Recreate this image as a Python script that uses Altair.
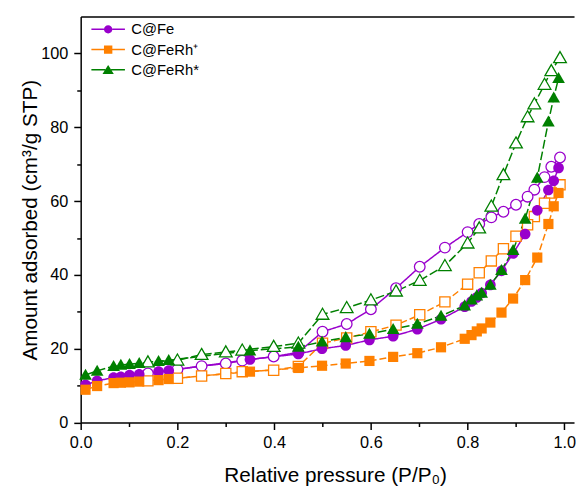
import altair as alt
import pandas as pd

SERIES = ["C@Fe", "C@FeRh⁺", "C@FeRh*"]
COLORS = ["#9900CC", "#FF8000", "#008000"]
DASHES = [[1, 0], [7, 3], [9, 3]]

# adsorption branch (filled markers)
ADS_X = [0.010, 0.034, 0.068, 0.083, 0.101, 0.121, 0.161, 0.182, 0.350, 0.450,
         0.499, 0.548, 0.597, 0.646, 0.696, 0.745, 0.794, 0.808, 0.819, 0.829,
         0.847, 0.870, 0.894, 0.919, 0.944, 0.967, 0.978, 0.988]
FE_ADS = [10.2, 11.3, 12.2, 12.4, 12.9, 13.1, 13.8, 14.1, 17.1, 18.6,
          20.0, 20.9, 22.4, 23.4, 25.3, 28.0, 31.4, 32.8, 33.9, 35.1,
          37.3, 41.1, 45.8, 51.1, 57.5, 63.0, 65.5, 69.0]
RHP_ADS = [8.9, 9.9, 10.7, 10.8, 10.9, 11.1, 11.5, 11.8, 13.8, 14.8,
           15.4, 16.0, 16.7, 17.8, 18.8, 20.4, 22.7, 23.7, 24.7, 25.5,
           27.1, 29.8, 33.6, 38.6, 44.7, 53.8, 58.6, 62.2]
RHS_ADS = [12.9, 14.0, 15.3, 15.6, 15.8, 16.1, 16.6, 16.9, 19.5, 20.5,
           21.9, 23.1, 24.0, 25.3, 26.7, 28.9, 31.7, 33.3, 34.4, 35.1,
           37.3, 41.3, 46.7, 55.2, 66.3, 81.5, 88.0, 93.3]

# desorption branch (open markers)
DES_X = [0.991, 0.973, 0.959, 0.938, 0.924, 0.900, 0.874, 0.849, 0.824, 0.800,
         0.753, 0.701, 0.652, 0.600, 0.550, 0.500, 0.450, 0.399, 0.334, 0.300,
         0.250, 0.200, 0.139]
FE_DES = [71.8, 69.3, 66.5, 63.1, 61.2, 59.0, 57.1, 55.6, 53.8, 51.6,
          47.4, 42.2, 36.4, 30.7, 26.7, 24.6, 19.0, 17.9, 16.8, 16.0,
          15.3, 14.4, 13.3]
RHP_DES = [64.4, 62.2, 59.4, 55.8, 53.6, 50.5, 47.1, 43.8, 40.6, 37.5,
           32.7, 29.2, 26.4, 24.6, 22.9, 21.5, 15.2, 14.2, 13.8, 13.3,
           12.6, 12.0, 11.3]
RHS_DES = [98.8, 95.3, 91.6, 86.3, 82.8, 75.7, 67.1, 58.6, 52.7, 48.6,
           42.5, 38.5, 35.6, 33.2, 31.1, 29.3, 21.5, 20.6, 19.6, 19.1,
           18.4, 16.9, 16.4]

X_MAJOR = [0.0, 0.2, 0.4, 0.6, 0.8, 1.0]
X_MINOR = [0.1, 0.3, 0.5, 0.7, 0.9]
Y_MAJOR = [0, 20, 40, 60, 80, 100]
Y_MINOR = [10, 30, 50, 70, 90]

rows = []
for name, ads, des in zip(SERIES, [FE_ADS, RHP_ADS, RHS_ADS], [FE_DES, RHP_DES, RHS_DES]):
    for i, (x, y) in enumerate(zip(ADS_X, ads)):
        rows.append({"series": name, "branch": "ads", "x": x, "y": y, "order": i})
    for i, (x, y) in enumerate(zip(DES_X, des)):
        rows.append({"series": name, "branch": "des", "x": x, "y": y, "order": i})
df = pd.DataFrame(rows)
ads_df = df[df.branch == "ads"]
des_df = df[df.branch == "des"]

FONT = "Liberation Sans"
xscale = alt.Scale(domain=[0, 1.02], nice=False, zero=False)
yscale = alt.Scale(domain=[0, 110], nice=False)
cscale = alt.Scale(domain=SERIES, range=COLORS)

# marker outlines (unit = sqrt(size)/2 px)
MARKER_PATHS = [
    "M-0.94,0A0.94,0.94,0,1,1,0.94,0A0.94,0.94,0,1,1,-0.94,0Z",
    "M-0.9,-0.9H0.9V0.9H-0.9Z",
    "M0,-1.1L1.12,0.85L-1.12,0.85Z",
]
shape_scale = alt.Scale(domain=SERIES, range=MARKER_PATHS)

LINE_L = "M-4,-0.18H-1V0.18H-4Z M1,-0.18H4V0.18H1Z "
LINE_T = "M-4,-0.18H-0.7V0.18H-4Z M0.7,-0.18H4V0.18H0.7Z "
LEG_PATHS = [
    LINE_L + "M-1,0A1,1,0,1,1,1,0A1,1,0,1,1,-1,0Z",
    LINE_L + "M-1,-1H1V1H-1Z",
    LINE_T + "M0,-1.15L1.35,1L-1.35,1Z",
]

common_axis = dict(domainColor="black", domainWidth=1.5, tickColor="black", tickWidth=1.5,
                   labelFont=FONT, labelFontSize=16.5, labelColor="black",
                   titleFont=FONT, titleFontSize=21, titleFontWeight="normal",
                   titleColor="black", labelFlush=False, labelOverlap=False)

x_major = alt.Axis(orient="bottom", values=X_MAJOR, format=".1f", tickSize=7, labelPadding=5,
                   title="Relative pressure (P/P₀)", titleX=258, titleY=60,
                   titleBaseline="alphabetic", **common_axis)
y_major = alt.Axis(orient="left", values=Y_MAJOR, format="d", tickSize=7, labelPadding=6,
                   title="Amount adsorbed (cm³/g STP)", titleX=-44.7, titleY=206,
                   titleBaseline="alphabetic", **common_axis)
x_minor = alt.Axis(orient="bottom", values=X_MINOR, tickSize=4, labels=False, domain=False,
                   title=None, tickColor="black", tickWidth=1.5)
y_minor = alt.Axis(orient="left", values=Y_MINOR, tickSize=4, labels=False, domain=False,
                   title=None, tickColor="black", tickWidth=1.5)
x_top = alt.Axis(orient="top", ticks=False, labels=False, domain=True, title=None,
                 domainColor="black", domainWidth=1.5)

lines = alt.Chart(df).mark_line(strokeWidth=1.5).encode(
    x=alt.X("x:Q", scale=xscale, axis=x_major),
    y=alt.Y("y:Q", scale=yscale, axis=y_major),
    color=alt.Color("series:N", scale=cscale, legend=None),
    strokeDash=alt.StrokeDash("series:N", scale=alt.Scale(domain=SERIES, range=DASHES), legend=None),
    detail="branch:N",
    order="order:Q",
)

open_pts = alt.Chart(des_df).mark_point(filled=False, fill="white", strokeWidth=1.3,
                                        opacity=1, size=132).encode(
    x=alt.X("x:Q", scale=xscale, axis=x_minor),
    y=alt.Y("y:Q", scale=yscale, axis=y_minor),
    color=alt.Color("series:N", scale=cscale, legend=None),
    shape=alt.Shape("series:N", scale=shape_scale, legend=None),
)

filled_pts = alt.Chart(ads_df).mark_point(filled=True, opacity=1, size=132).encode(
    x=alt.X("x:Q", scale=xscale, axis=x_top),
    y=alt.Y("y:Q", scale=yscale, axis=None),
    color=alt.Color("series:N", scale=cscale, legend=None),
    shape=alt.Shape("series:N", scale=shape_scale, legend=None),
)

LEG = alt.Legend(orient="none", legendX=20.35, legendY=5.5, title=None, padding=0,
                 labelFont=FONT, labelFontSize=15, labelColor="black",
                 symbolSize=72.25, symbolStrokeWidth=0, symbolOpacity=1,
                 symbolOffset=0, labelOffset=16, rowPadding=4.5)

legend_layer = alt.Chart(ads_df).mark_point(filled=True, opacity=0, size=72.25).encode(
    x=alt.X("x:Q", scale=xscale, axis=None),
    y=alt.Y("y:Q", scale=yscale, axis=None),
    color=alt.Color("series:N", scale=cscale, legend=LEG),
    shape=alt.Shape("series:N", scale=alt.Scale(domain=SERIES, range=LEG_PATHS), legend=LEG),
)

chart = alt.layer(lines, open_pts, filled_pts, legend_layer).resolve_scale(
    color="independent", shape="independent", strokeDash="independent"
).resolve_axis(x="independent", y="independent").properties(
    width=500.2, height=411.7,
    autosize=alt.AutoSizeParams(type="none"),
    padding={"left": 73.7, "top": 5.3, "right": 2, "bottom": 65},
    background="white",
).configure_axis(grid=False).configure_view(stroke="transparent")

chart.save("out.html", embed_options={"renderer": "svg", "actions": False})
